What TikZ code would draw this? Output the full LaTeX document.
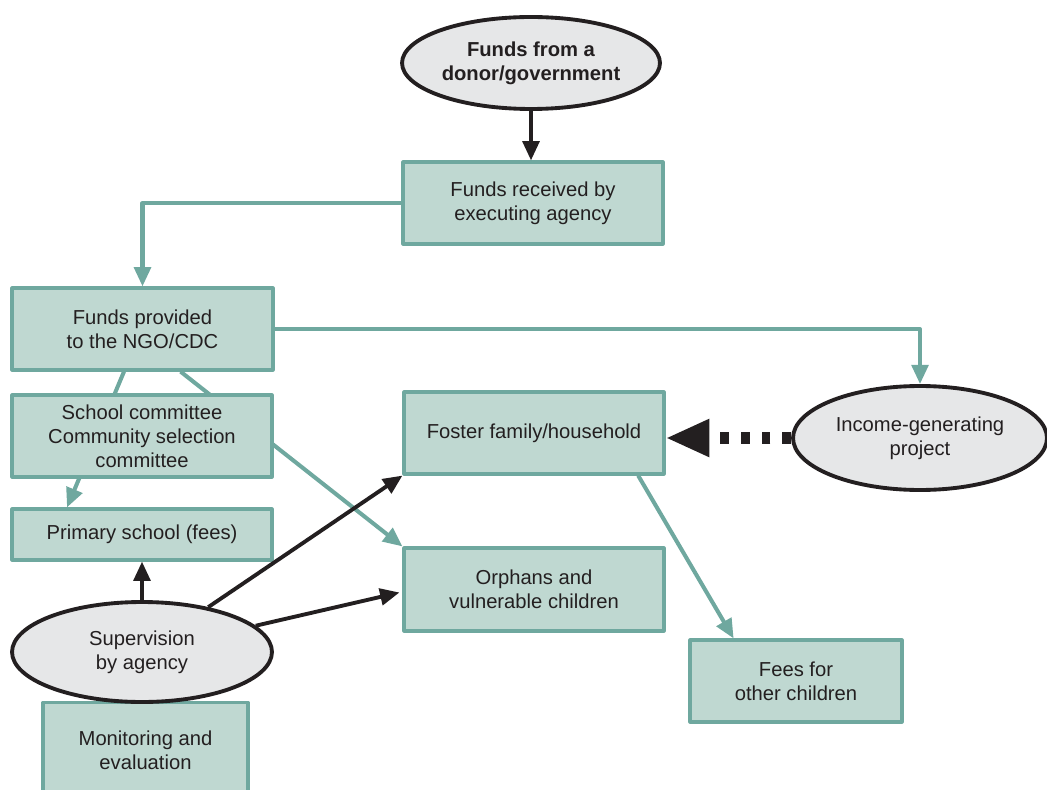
\documentclass[tikz,border=0pt]{standalone}
\usepackage{fontspec}
\setmainfont{Liberation Sans}
\usetikzlibrary{positioning,arrows.meta,shapes.geometric,backgrounds,calc}
\definecolor{boxfill}{HTML}{BFD8D1}
\definecolor{boxline}{HTML}{6FA89F}
\definecolor{ovalfill}{HTML}{E6E7E8}
\definecolor{ink}{HTML}{231F20}
\begin{document}
\begin{tikzpicture}[x=0.02cm, y=-0.02cm, font=\fontsize{11.5}{13.7}\selectfont, line join=round,
    >={Triangle[length=11pt,width=9.5pt]},
    box/.style={draw=boxline, fill=boxfill, line width=1.8pt, inner sep=0pt, align=center, text=ink,
      minimum width=5.2cm, minimum height=1.64cm},
    oval/.style={ellipse, draw=ink, fill=ovalfill, line width=2.2pt, inner sep=0pt, align=center, text=ink},
    tealline/.style={draw=boxline, line width=2.3pt},
    blackline/.style={draw=ink, line width=2.2pt}]
  \useasboundingbox (0,0) rectangle (1047,790);
  % ovals and boxes
  \node[oval, minimum width=5.16cm, minimum height=1.84cm] (donor) at (531,63) {\bfseries Funds from a\\\bfseries donor/government};
  \node[box] (recv) at (533,203) {Funds received by\\executing agency};
  \node[box, minimum width=5.22cm] (ngo) at (142.5,329) {Funds provided\\to the NGO/CDC};
  \node[box] (comm) at (142,436) {School committee\\Community selection\\committee};
  \node[box, minimum height=1.02cm] (school) at (142,534.5) {Primary school (fees)};
  \node[box, minimum width=4.1cm, minimum height=1.9cm] (monitor) at (145.5,750) {Monitoring and\\evaluation};
  \node[oval, minimum width=5.2cm, minimum height=2cm] (superv) at (142,652) {Supervision\\by agency};
  \node[box] (foster) at (534,433) {Foster family/household};
  \node[box, minimum height=1.66cm] (orphans) at (534,589.5) {Orphans and\\vulnerable children};
  \node[oval, minimum width=5.08cm, minimum height=2.08cm] (income) at (920,438) {Income-generating\\project};
  \node[box, minimum width=4.24cm] (fees) at (796,681) {Fees for\\other children};
  % connectors
  \draw[blackline,->] (donor.south) -- (donor.south |- recv.north);
  \draw[tealline,->] (recv.west) -| (ngo.north);
  \draw[tealline,->] (ngo.east) -| (income.north);
  \begin{scope}[on background layer]
    \draw[tealline,->] ($(ngo.south west)!0.43!(ngo.south east)$) -- ($(school.north west)!0.215!(school.north east)$);
    \draw[tealline,->] ($(ngo.south west)!0.644!(ngo.south east)$) -- (orphans.north west);
  \end{scope}
  \draw[blackline,->] (superv.north) -- (school.south);
  \draw[blackline,->] (superv) -- (foster.south west);
  \draw[blackline,->] (superv) -- ($(orphans.west)+(-3,3)$);
  \draw[tealline,->] ($(foster.south west)!0.896!(foster.south east)$) -- ($(fees.north west)!0.21!(fees.north east)$);
  \draw[draw=ink, line width=6.3pt, dash pattern=on 5pt off 6.8pt, -{Triangle[length=25pt,width=20pt]}]
    (income.west) -- (foster.east |- income.west);
\end{tikzpicture}
\end{document}
